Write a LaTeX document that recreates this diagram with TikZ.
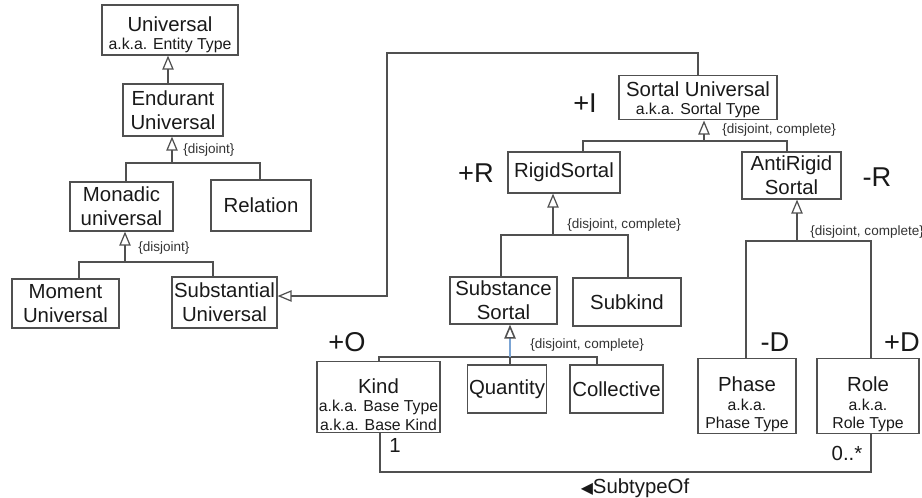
\documentclass[tikz,border=0pt]{standalone}
\usepackage{fontspec}
\setmainfont{Liberation Sans}
\newfontfamily\symbolfont{DejaVu Sans}
\usetikzlibrary{
  arrows.meta,
  positioning,
}
\definecolor{linegray}{HTML}{505050}
\definecolor{genblue}{HTML}{7BA4D4}
\newcommand\mainsize{\fontsize{11.6}{13.6}\selectfont}
\newcommand\akasize{\fontsize{9}{10.6}\selectfont}
\newcommand\notesize{\fontsize{7.7}{9}\selectfont}
\newcommand\signsize{\fontsize{15.5}{18}\selectfont}
\newcommand\topstrut[1]{\rule{0pt}{#1}}
\tikzset{
  >=Straight Barb[],
  box/.style={draw=linegray, line width=0.7pt, align=center, inner sep=1pt,
    font=\mainsize, text=black!90},
  dims/.style 2 args={minimum width=#1*0.02cm, minimum height=#2*0.02cm},
  line/.style={draw=linegray, line width=0.7pt},
  gen/.style={line, -{Triangle[open, length=8pt, width=6.5pt]}},
  genshaft/.style={draw=genblue, line width=0.9pt,
    -{Triangle[open, length=8pt, width=6.5pt, color=linegray]}},
  note/.style={font=\notesize, text=black!80, inner sep=0pt, anchor=west},
  sign/.style={font=\signsize, text=black!90, inner sep=0pt},
  mult/.style={font=\mainsize, text=black!90, inner sep=0pt},
}

\begin{document}
\begin{tikzpicture}[x=0.02cm, y=-0.02cm]
  \useasboundingbox (0, 0) rectangle (922, 497);

  \node [box, dims={136}{46}] (univ) at (170, 30) {\topstrut{14pt}Universal\\[-3pt]\akasize a.k.a. Entity Type};
  \node [box, dims={100}{52}] (endur) at (173, 110) {Endurant\\Universal};
  \node [box, dims={103}{49}] (monadic) at (121.5, 206.5) {Monadic\\universal};
  \node [box, dims={100}{51}] (relation) at (261, 205.5) {Relation};
  \node [box, dims={107}{49}] (moment) at (65.5, 303.5) {Moment\\Universal};
  \node [box, dims={105}{51}] (substantial) at (224.5, 302.5) {Substantial\\Universal};
  \node [box, dims={158}{39}] (sortal) at (698, 97.5) {\topstrut{11pt}Sortal Universal\\[-3pt]\akasize a.k.a. Sortal Type};
  \node [box, dims={112}{41}] (rigid) at (564, 172.5) {RigidSortal};
  \node [box, dims={99}{47}] (antirigid) at (791.5, 175.5) {AntiRigid\\Sortal};
  \node [box, dims={107}{47}] (substance) at (503.5, 300.5) {Substance\\Sortal};
  \node [box, dims={108}{48}] (subkind) at (627, 302) {Subkind};
  \node [box, dims={123}{64}] (kind) at (378.5, 397) {\topstrut{17pt}Kind\\[-3pt]\akasize a.k.a. Base Type\\[-3pt]\akasize a.k.a. Base Kind};
  \node [box, dims={78}{48}] (quantity) at (507, 389) {Quantity};
  \node [box, dims={93}{48}] (collective) at (616.5, 389) {Collective};
  \node [box, dims={98}{66}] (phase) at (747, 396) {\topstrut{18pt}Phase\\[-3pt]\akasize a.k.a.\\[-3.5pt]\akasize Phase Type};
  \node [box, dims={102}{66}] (role) at (868, 396) {\topstrut{18pt}Role\\[-3pt]\akasize a.k.a.\\[-3.5pt]\akasize Role Type};

  \node [sign] (isign) at (585, 103) {+I};
  \node [sign] (rsign) at (476, 173) {+R};
  \node [sign] (nrsign) at (877, 177) {-R};
  \node [sign] (osign) at (347, 342) {+O};
  \node [sign] (ndsign) at (775, 342) {-D};
  \node [sign] (dsign) at (902, 342) {+D};

  \draw [gen] (endur.north -| 168, 0) -- (univ.south -| 168, 0);

  \coordinate (endurjoin) at (172, 163);
  \draw [line] (monadic.north -| 126, 0) |- (endurjoin) -| (relation.north -| 260, 0);
  \draw [gen] (endurjoin) -- (endurjoin |- endur.south);
  \node [note] (endurnote) at (183, 150) {\{disjoint\}};

  \coordinate (monadicjoin) at (125, 262);
  \draw [line] (moment.north -| 79, 0) |- (monadicjoin) -| (substantial.north -| 213, 0);
  \draw [gen] (monadicjoin) -- (monadicjoin |- monadic.south);
  \node [note] (monadicnote) at (138, 248) {\{disjoint\}};

  \coordinate (sortalbend) at (387, 53);
  \draw [gen] (sortal.north) |- (sortalbend) |- (substantial.east |- 0, 296);

  \coordinate (sortaljoin) at (704, 141);
  \draw [line] (rigid.north -| 583, 0) |- (sortaljoin) -| (antirigid.north -| 787, 0);
  \draw [gen] (sortaljoin) -- (sortaljoin |- sortal.south);
  \node [note] (sortalnote) at (722, 130) {\{disjoint, complete\}};

  \coordinate (rigidjoin) at (553, 235);
  \draw [line] (substance.north -| 501, 0) |- (rigidjoin) -| (subkind.north -| 628, 0);
  \draw [gen] (rigidjoin) -- (rigidjoin |- rigid.south);
  \node [note] (rigidnote) at (567, 225) {\{disjoint, complete\}};

  \coordinate (substancejoin) at (510, 357);
  \draw [line] (kind.north -| 379, 0) |- (substancejoin) -| (collective.north -| 597, 0);
  \draw [line] (substancejoin) -- (quantity.north -| substancejoin);
  \draw [genshaft] (substancejoin) -- (substancejoin |- substance.south);
  \node [note] (substancenote) at (530, 345) {\{disjoint, complete\}};

  \coordinate (antirigidjoin) at (797, 241);
  \draw [line] (phase.north -| 746, 0) |- (antirigidjoin) -| (role.north -| 871, 0);
  \draw [gen] (antirigidjoin) -- (antirigidjoin |- antirigid.south);
  \node [note] (antirigidnote) at (810, 232) {\{disjoint, complete\}};

  \draw [line] (kind.south -| 380, 0) -- ++(0, 39) -| (role.south -| 871, 0);
  \node [mult] (kindmult) at (395, 445) {1};
  \node [mult] (rolemult) at (847, 453) {0..*};
  \node [mult] (subtypeof) at (635, 488) {{\symbolfont\fontsize{9}{10}\selectfont ◀}SubtypeOf};
\end{tikzpicture}
\end{document}
